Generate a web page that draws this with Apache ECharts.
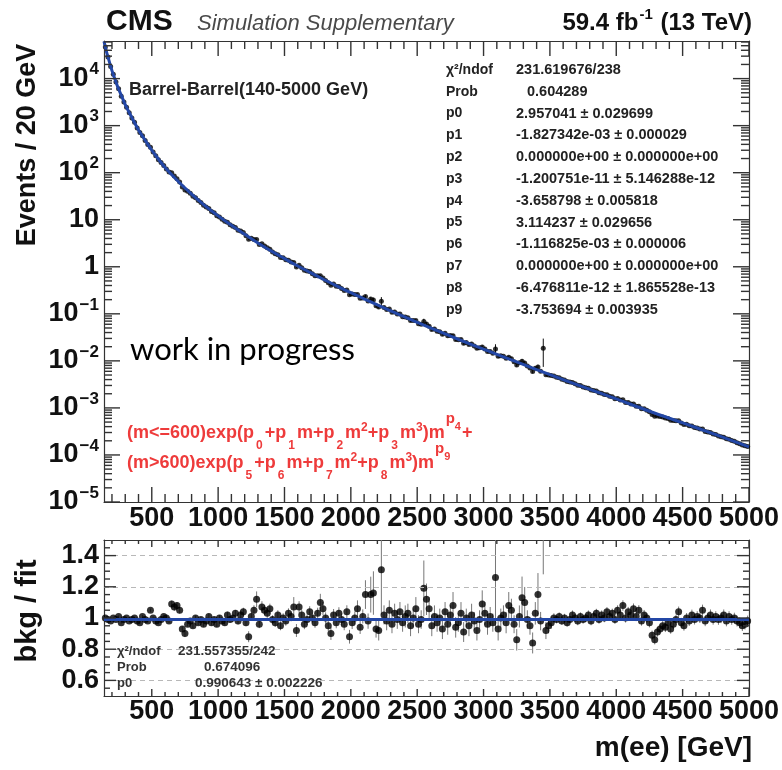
<!DOCTYPE html>
<html><head><meta charset="utf-8">
<script src="https://cdn.jsdelivr.net/npm/echarts@6/dist/echarts.min.js"></script>
<style>html,body{margin:0;padding:0;background:#fff}#c{width:782px;height:770px}</style>
</head><body><div id="c"></div>
<script>
// ---------------- data ----------------
const binStart = 150, binStep = 20;   // 20 GeV bins, centres 150 ... 4990
const events = [
47000,28700,18000,12300,8420,6090,4230,3200,2460,1870,
1460,1180,894,719,609,485,399,348,275,230,
189,164,142,120,103,99.4,85.0,74.7,63.3,49.9,
43.1,40.5,36.4,31.5,29.5,25.5,23.2,20.3,18.7,17.4,
15.0,14.0,12.2,11.5,10.3,9.26,8.88,7.86,7.24,6.81,
5.98,5.73,5.34,4.54,3.84,4.02,3.81,3.80,2.97,3.08,
2.76,2.53,2.37,2.07,1.89,1.81,1.58,1.55,1.41,1.37,
1.26,1.24,0.993,1.075,0.957,0.840,0.809,0.793,0.713,0.647,
0.643,0.642,0.579,0.512,0.456,0.406,0.431,0.384,0.383,0.346,
0.315,0.321,0.255,0.264,0.256,0.256,0.214,0.217,0.233,0.187,
0.206,0.197,0.148,0.139,0.186,0.137,0.124,0.126,0.108,0.110,
0.0997,0.0989,0.0870,0.0855,0.0826,0.0721,0.0718,0.0720,0.0617,0.0602,
0.0684,0.0610,0.0546,0.0466,0.0473,0.0424,0.0417,0.0370,0.0387,0.0341,
0.0346,0.0341,0.0284,0.0280,0.0283,0.0237,0.0247,0.0223,0.0228,0.0208,
0.0186,0.0189,0.0198,0.0178,0.0158,0.0158,0.0145,0.0179,0.0126,0.0128,
0.0125,0.0113,0.0119,0.0111,0.0096,0.00821,0.00917,0.00977,0.00904,0.00775,
0.00708,0.00595,0.00695,0.00737,0.00599,0.0186,0.00508,0.00500,0.00486,0.00478,
0.00450,0.00438,0.00405,0.00394,0.00365,0.00354,0.00348,0.00325,0.00304,0.00299,
0.00279,0.00269,0.00261,0.00239,0.00235,0.00229,0.00210,0.00206,0.00192,0.00191,
0.00177,0.00172,0.00157,0.00159,0.00148,0.00149,0.00131,0.00130,0.00121,0.00121,
0.00109,0.00108,0.000964,0.000957,0.000893,0.000825,0.000724,0.000667,0.000674,0.000658,
0.000642,0.000607,0.000598,0.000548,0.000540,0.000532,0.000534,0.000475,0.000445,0.000447,
0.000418,0.000415,0.000385,0.000376,0.000355,0.000356,0.000317,0.000309,0.000301,0.000279,
0.000272,0.000254,0.000245,0.000239,0.000220,0.000216,0.000202,0.000195,0.000182,0.000173,
0.000162,0.000156,0.000152
];
const ratio = [
1.00,0.99,0.98,1.00,0.99,1.01,0.97,0.99,1.00,0.98,
0.99,1.00,0.98,0.97,1.01,0.99,0.98,1.05,1.00,0.98,
0.97,0.99,1.01,1.00,0.98,1.09,1.07,1.08,1.05,0.93,
0.90,0.96,0.98,0.95,1.00,0.97,0.99,0.96,0.98,1.01,
0.97,0.99,0.96,1.00,0.98,0.97,1.02,0.99,1.00,1.03,
0.98,1.02,1.04,0.97,0.88,1.01,1.05,1.12,0.96,1.07,
1.05,1.03,1.06,0.99,0.97,1.02,0.95,1.00,0.98,1.03,
1.01,1.07,0.92,1.07,1.02,0.96,0.99,1.04,1.00,0.97,
1.03,1.10,1.06,1.00,0.95,0.90,1.02,0.97,1.03,0.99,
0.96,1.04,0.88,0.97,1.00,1.06,0.94,1.01,1.15,0.98,
1.15,1.16,0.93,0.92,1.31,1.02,0.98,1.05,0.96,1.03,
0.99,1.04,0.97,1.01,1.03,0.95,1.00,1.06,0.96,0.99,
1.19,1.12,1.06,0.95,1.01,0.97,1.00,0.93,1.04,0.96,
1.02,1.08,0.94,0.97,1.03,0.91,1.00,0.95,1.02,0.98,
0.92,0.99,1.09,1.03,0.96,1.01,0.97,1.26,0.93,1.00,
1.02,0.97,1.08,1.05,0.96,0.86,1.01,1.13,1.10,0.99,
0.95,0.84,1.03,1.15,0.98,3.20,0.92,0.95,0.97,1.00,
0.99,1.01,0.98,1.00,0.97,0.99,1.02,1.00,0.98,1.01,
0.99,1.00,1.02,0.98,1.01,1.03,0.99,1.02,1.00,1.04,
1.01,1.03,0.99,1.05,1.02,1.08,1.00,1.04,1.02,1.06,
1.01,1.05,0.98,1.02,1.00,0.97,0.89,0.86,0.91,0.93,
0.95,0.94,0.97,0.93,0.96,0.99,1.04,0.97,0.95,1.00,
0.98,1.02,0.99,1.01,1.00,1.05,0.98,1.00,1.02,0.99,
1.01,0.99,1.00,1.02,0.98,1.01,0.99,1.00,0.98,0.97,
0.95,0.96,0.98
];
const relErr = [
0.004,0.004,0.005,0.005,0.005,0.006,0.006,0.006,0.007,0.007,
0.007,0.008,0.008,0.008,0.009,0.009,0.009,0.010,0.010,0.010,
0.011,0.011,0.011,0.012,0.012,0.020,0.022,0.020,0.020,0.018,
0.025,0.015,0.015,0.016,0.016,0.016,0.017,0.017,0.017,0.018,
0.018,0.018,0.019,0.019,0.019,0.020,0.020,0.020,0.021,0.021,
0.022,0.022,0.025,0.023,0.040,0.024,0.030,0.045,0.026,0.035,
0.030,0.028,0.030,0.028,0.028,0.029,0.030,0.030,0.030,0.031,
0.031,0.060,0.045,0.035,0.032,0.033,0.033,0.034,0.034,0.034,
0.035,0.050,0.040,0.036,0.036,0.045,0.037,0.037,0.038,0.038,
0.040,0.040,0.050,0.042,0.042,0.050,0.045,0.045,0.080,0.050,
0.100,0.120,0.060,0.070,0.220,0.060,0.060,0.060,0.060,0.060,
0.060,0.060,0.060,0.070,0.060,0.070,0.060,0.070,0.060,0.060,
0.150,0.090,0.070,0.070,0.070,0.060,0.060,0.070,0.060,0.070,
0.060,0.080,0.070,0.060,0.070,0.070,0.060,0.070,0.070,0.060,
0.070,0.060,0.080,0.070,0.070,0.060,0.060,0.260,0.080,0.060,
0.060,0.070,0.080,0.070,0.060,0.080,0.070,0.120,0.090,0.060,
0.060,0.080,0.070,0.120,0.060,0.600,0.060,0.050,0.040,0.030,
0.025,0.026,0.025,0.027,0.026,0.025,0.028,0.026,0.027,0.026,
0.027,0.026,0.028,0.027,0.026,0.028,0.027,0.028,0.027,0.029,
0.028,0.029,0.028,0.030,0.029,0.031,0.029,0.030,0.029,0.031,
0.030,0.031,0.030,0.031,0.030,0.031,0.033,0.034,0.033,0.032,
0.032,0.032,0.031,0.033,0.032,0.031,0.032,0.032,0.033,0.032,
0.032,0.033,0.032,0.033,0.032,0.034,0.033,0.033,0.034,0.033,
0.033,0.034,0.033,0.034,0.034,0.033,0.034,0.034,0.035,0.035,
0.035,0.035,0.036
];
// fitted background curve
const fitMass = [140,160,180,200,225,250,275,300,350,400,450,500,550,600,700,800,900,1000,1100,1200,1300,1400,1500,1600,1700,1800,1900,2000,2200,2400,2600,2800,3000,3250,3500,3750,4000,4250,4500,4750,5000];
const fitValues = [6.2e4,3.6e4,2.3e4,1.48e4,9.3e3,6.0e3,4.1e3,2.8e3,1.48e3,810,490,300,195,129,65,35,20,12.1,7.6,4.9,3.2,2.16,1.49,1.04,0.74,0.53,0.384,0.281,0.155,0.087,0.050,0.0295,0.0177,0.0095,0.0051,0.0028,0.00155,8.5e-4,4.8e-4,2.7e-4,1.48e-4];
const ratioFitP0 = 0.990643;
// axis ticks
const xRange = [140, 5000];
const xMajorTicks = [500,1000,1500,2000,2500,3000,3500,4000,4500,5000];
const yTopRange = [1e-5, 6.3e4];
const yTopMajorTicks = [1e-5,1e-4,1e-3,1e-2,1e-1,1,10,100,1e3,1e4];
const yBotRange = [0.5, 1.5];
const yBotMajorTicks = [0.6,0.8,1.0,1.2,1.4];
const yBotMinorTicks = [0.55,0.65,0.7,0.75,0.85,0.9,0.95,1.05,1.1,1.15,1.25,1.3,1.35,1.45];
const statsTopLabels = ['χ²/ndof','Prob','p0','p1','p2','p3','p4','p5','p6','p7','p8','p9'];
const statsTopValues = ['231.619676/238','0.604289','2.957041 ± 0.029699','-1.827342e-03 ± 0.000029','0.000000e+00 ± 0.000000e+00','-1.200751e-11 ± 5.146288e-12','-3.658798 ± 0.005818','3.114237 ± 0.029656','-1.116825e-03 ± 0.000006','0.000000e+00 ± 0.000000e+00','-6.476811e-12 ± 1.865528e-13','-3.753694 ± 0.003935'];
const statsBotLabels = ['χ²/ndof','Prob','p0'];
const statsBotValues = ['231.557355/242','0.674096','0.990643 ± 0.002226'];

// ---------------- layout ----------------
const GRID_TOP = { left: 104, top: 41, width: 649, height: 461 };
const GRID_BOT = { left: 104, top: 540, width: 649, height: 156 };

// ---------------- derived tables ----------------
const mass = events.map((_, i) => binStart + binStep * i);
const xMinorTicks = [];
for (let v = 200; v <= 5000; v += 100) if (v % 500 !== 0) xMinorTicks.push(v);
const yTopMinorTicks = [];
for (let d = -5; d <= 4; d++) for (let k = 2; k <= 9; k++) { const v = k * Math.pow(10, d); if (v < yTopRange[1]) yTopMinorTicks.push(v); }

const topPts = mass.map((m, i) => [m, events[i]]);
const topErr = mass.map((m, i) => [m, events[i] * (1 - relErr[i]), events[i] * (1 + relErr[i])]);
const botPts = mass.map((m, i) => [m, ratio[i]]);
const botErr = mass.map((m, i) => [m, ratio[i] * (1 - relErr[i]), ratio[i] * (1 + relErr[i])]);
const fitLine = fitMass.map((m, i) => [m, fitValues[i]]);

// ---------------- styling ----------------
const FF = "'Liberation Sans', Arial, Helvetica, sans-serif";
const FRAME = '#333';
const TICK = '#333';
const BLUE = '#2347a6';
const RED = '#ee3b3b';

function axis(grid, pos, type, range, opts) {
  opts = opts || {};
  const a = {
    type: type, gridIndex: grid, position: pos, min: range[0], max: range[1],
    axisLine: { show: true, onZero: false, lineStyle: { color: FRAME, width: 1.2 } },
    axisTick: { show: false },
    axisLabel: { show: false },
    splitLine: { show: false }, minorTick: { show: false }, minorSplitLine: { show: false }
  };
  if (type === 'log') a.logBase = 10;
  if (opts.label) a.axisLabel = Object.assign({ show: true, customValues: opts.ticks, hideOverlap: false }, opts.label);
  return a;
}
const xLabel = (margin) => ({
  margin: margin, fontFamily: FF, fontSize: 27, fontWeight: 'bold', color: '#111',
  formatter: v => String(Math.round(v))
});
const supNum = e => (e < 0 ? '−' + (-e) : String(e));
const yTopLabel = {
  margin: 5,
  formatter: v => {
    const e = Math.round(Math.log10(v));
    if (e === 0) return '{b|1}';
    if (e === 1) return '{b|10}';
    return '{b|10}{s|' + supNum(e) + '}';
  },
  rich: {
    b: { fontFamily: FF, fontSize: 27, fontWeight: 'bold', color: '#111', verticalAlign: 'middle' },
    s: { fontFamily: FF, fontSize: 17, fontWeight: 'bold', color: '#111', verticalAlign: 'middle', padding: [0, 0, 18, 1] }
  }
};
const yBotLabel = {
  margin: 5, fontFamily: FF, fontSize: 27, fontWeight: 'bold', color: '#111',
  formatter: v => (Math.abs(v - 1) < 1e-6 ? '1' : v.toFixed(1))
};

const xAxes = [
  axis(0, 'bottom', 'value', xRange, { ticks: xMajorTicks, label: xLabel(3) }),
  axis(0, 'top', 'value', xRange),
  axis(1, 'bottom', 'value', xRange, { ticks: xMajorTicks, label: xLabel(2) }),
  axis(1, 'top', 'value', xRange)
];
const yAxes = [
  axis(0, 'left', 'log', yTopRange, { ticks: yTopMajorTicks, label: yTopLabel }),
  axis(0, 'right', 'log', yTopRange),
  axis(1, 'left', 'value', yBotRange, { ticks: yBotMajorTicks, label: yBotLabel }),
  axis(1, 'right', 'value', yBotRange)
];

function errRender(color, width) {
  return function (params, api) {
    const x = api.value(0);
    const p1 = api.coord([x, api.value(1)]);
    const p2 = api.coord([x, api.value(2)]);
    return { type: 'line', shape: { x1: p1[0], y1: p1[1], x2: p2[0], y2: p2[1] }, style: { stroke: color, lineWidth: width } };
  };
}

// ---- tick marks: thin rectangle symbols anchored on the frame edges, shifted inward ----
function tickItems(values, edge, len, side) {
  // side: 'bottom' | 'top' (vertical ticks) or 'left' | 'right' (horizontal ticks)
  return values.map(v => {
    const vert = side === 'bottom' || side === 'top';
    const sgn = (side === 'bottom' || side === 'right') ? -1 : 1;
    return {
      value: vert ? [v, edge] : [edge, v],
      symbolSize: vert ? [1.4, len] : [len, 1.4],
      symbolOffset: vert ? [0, sgn * len / 2] : [-sgn * len / 2 * -1 * -1 * (side === 'left' ? -1 : 1), 0]
    };
  });
}
function fixOffsets(items, side) {
  items.forEach(it => {
    const len = side === 'bottom' || side === 'top' ? it.symbolSize[1] : it.symbolSize[0];
    if (side === 'bottom') it.symbolOffset = [0, -len / 2];
    if (side === 'top') it.symbolOffset = [0, len / 2];
    if (side === 'left') it.symbolOffset = [len / 2, 0];
    if (side === 'right') it.symbolOffset = [-len / 2, 0];
  });
  return items;
}
function tickSet(xMaj, xMin, yMaj, yMin, yR, lxMaj, lxMin, lyMaj, lyMin) {
  let items = [];
  items = items.concat(fixOffsets(tickItems(xMaj, yR[0], lxMaj, 'bottom'), 'bottom'));
  items = items.concat(fixOffsets(tickItems(xMin, yR[0], lxMin, 'bottom'), 'bottom'));
  items = items.concat(fixOffsets(tickItems(xMaj, yR[1], lxMaj, 'top'), 'top'));
  items = items.concat(fixOffsets(tickItems(xMin, yR[1], lxMin, 'top'), 'top'));
  items = items.concat(fixOffsets(tickItems(yMaj, xRange[0], lyMaj, 'left'), 'left'));
  items = items.concat(fixOffsets(tickItems(yMin, xRange[0], lyMin, 'left'), 'left'));
  items = items.concat(fixOffsets(tickItems(yMaj, xRange[1], lyMaj, 'right'), 'right'));
  items = items.concat(fixOffsets(tickItems(yMin, xRange[1], lyMin, 'right'), 'right'));
  return items;
}
const topTicks = tickSet(xMajorTicks, xMinorTicks, yTopMajorTicks, yTopMinorTicks, yTopRange, 15, 8, 16, 8);
const botTicks = tickSet(xMajorTicks, xMinorTicks, yBotMajorTicks, yBotMinorTicks, yBotRange, 7, 4, 12, 6);

const series = [
  { type: 'custom', xAxisIndex: 0, yAxisIndex: 0, data: topErr, renderItem: errRender('#111', 1), encode: { x: 0, y: [1, 2] }, clip: true, z: 2, silent: true },
  { type: 'scatter', xAxisIndex: 0, yAxisIndex: 0, data: topPts, symbol: 'circle', symbolSize: 5, itemStyle: { color: '#000' }, z: 3, silent: true },
  { type: 'line', xAxisIndex: 0, yAxisIndex: 0, data: fitLine, smooth: 0.4, showSymbol: false, symbol: 'none', lineStyle: { color: BLUE, width: 3 }, z: 5, silent: true, clip: true },
  { type: 'scatter', xAxisIndex: 0, yAxisIndex: 0, data: topTicks, symbol: 'rect', itemStyle: { color: TICK, opacity: 1 }, z: 8, silent: true, clip: false, large: false },
  { type: 'line', xAxisIndex: 2, yAxisIndex: 2, data: [], silent: true, z: 1,
    markLine: { silent: true, symbol: ['none', 'none'], label: { show: false },
      lineStyle: { color: '#b8b8b8', type: [5, 4], width: 1 },
      data: yBotMajorTicks.map(v => ({ yAxis: v })) } },
  { type: 'custom', xAxisIndex: 2, yAxisIndex: 2, data: botErr, renderItem: errRender('#777', 1), encode: { x: 0, y: [1, 2] }, clip: true, z: 2, silent: true },
  { type: 'scatter', xAxisIndex: 2, yAxisIndex: 2, data: botPts, symbol: 'circle', symbolSize: 7, itemStyle: { color: '#000' }, z: 3, silent: true, clip: true },
  { type: 'line', xAxisIndex: 2, yAxisIndex: 2, data: [[xRange[0], ratioFitP0], [xRange[1], ratioFitP0]], showSymbol: false, symbol: 'none', lineStyle: { color: BLUE, width: 3 }, z: 5, silent: true },
  { type: 'scatter', xAxisIndex: 2, yAxisIndex: 2, data: botTicks, symbol: 'rect', itemStyle: { color: TICK, opacity: 1 }, z: 8, silent: true, clip: false, large: false }
];

// ---------------- texts ----------------
const g = [];
function txt(x, y, text, st, extra) {
  g.push(Object.assign({ type: 'text', x: x, y: y, z: 100, silent: true,
    style: Object.assign({ text: text, fontFamily: FF, fill: '#111', align: 'left', verticalAlign: 'middle' }, st) }, extra || {}));
}
txt(106, 22, 'CMS', { fontSize: 30, fontWeight: 'bold' });
txt(197, 24, 'Simulation Supplementary', { fontSize: 22, fontStyle: 'italic', fill: '#4a4a4a' });
txt(752, 23, '{t|59.4 fb}{e|-1}{t| (13 TeV)}', { align: 'right', rich: {
  t: { fontFamily: FF, fontSize: 24, fontWeight: 'bold', fill: '#111', verticalAlign: 'middle' },
  e: { fontFamily: FF, fontSize: 15, fontWeight: 'bold', fill: '#111', verticalAlign: 'middle', padding: [0, 1, 16, 1] } } });
txt(129, 90, 'Barrel-Barrel(140-5000 GeV)', { fontSize: 18, fontWeight: 'bold', fill: '#222' });
statsTopLabels.forEach((s, i) => {
  txt(446, 70 + 21.8 * i, s, { fontSize: 14, fontWeight: 'bold', fill: '#222' });
  txt(i === 1 ? 527 : 516, 70 + 21.8 * i, statsTopValues[i], { fontSize: 14.5, fontWeight: 'bold', fill: '#222' });
});
statsBotLabels.forEach((s, i) => {
  txt(117, 651 + 16 * i, s, { fontSize: 13, fontWeight: 'bold', fill: '#333' });
  txt([178, 204, 195][i], 651 + 16 * i, statsBotValues[i], { fontSize: 13.5, fontWeight: 'bold', fill: '#333' });
});
txt(130, 350, 'work in progress', { fontSize: 31, fontFamily: "Lato, 'Open Sans', sans-serif", fill: '#000' });
const fr = {
  a: { fontFamily: FF, fontSize: 18, fontWeight: 'bold', fill: RED, verticalAlign: 'middle' },
  s: { fontFamily: FF, fontSize: 12, fontWeight: 'bold', fill: RED, verticalAlign: 'middle', padding: [26, 2, 0, 2] },
  u: { fontFamily: FF, fontSize: 12, fontWeight: 'bold', fill: RED, verticalAlign: 'middle', padding: [0, 0, 11, 0] },
  up: { fontFamily: FF, fontSize: 15, fontWeight: 'bold', fill: RED, verticalAlign: 'middle', padding: [0, 0, 28, 1] },
  us: { fontFamily: FF, fontSize: 11, fontWeight: 'bold', fill: RED, verticalAlign: 'middle', padding: [0, 1, 12, 0] }
};
txt(127, 433, '{a|(m<=600)exp(p}{s|0}{a|+p}{s|1}{a|m+p}{s|2}{a|m}{u|2}{a|+p}{s|3}{a|m}{u|3}{a|)m}{up|p}{us|4}{a|+}', { rich: fr });
txt(127, 463, '{a|(m>600)exp(p}{s|5}{a|+p}{s|6}{a|m+p}{s|7}{a|m}{u|2}{a|+p}{s|8}{a|m}{u|3}{a|)m}{up|p}{us|9}', { rich: fr });
txt(28, 145, 'Events / 20 GeV', { fontSize: 27, fontWeight: 'bold', align: 'center' }, { rotation: Math.PI / 2 });
txt(28, 611, 'bkg / fit', { fontSize: 29, fontWeight: 'bold', align: 'center' }, { rotation: Math.PI / 2 });
txt(752, 748, 'm(ee) [GeV]', { fontSize: 28, fontWeight: 'bold', align: 'right' });

const chart = echarts.init(document.getElementById('c'), null, { renderer: 'canvas' });
chart.setOption({
  animation: false,
  backgroundColor: '#fff',
  grid: [
    Object.assign({ containLabel: false }, GRID_TOP),
    Object.assign({ containLabel: false }, GRID_BOT)
  ],
  xAxis: xAxes,
  yAxis: yAxes,
  series: series,
  graphic: g
});
</script>
</body></html>
